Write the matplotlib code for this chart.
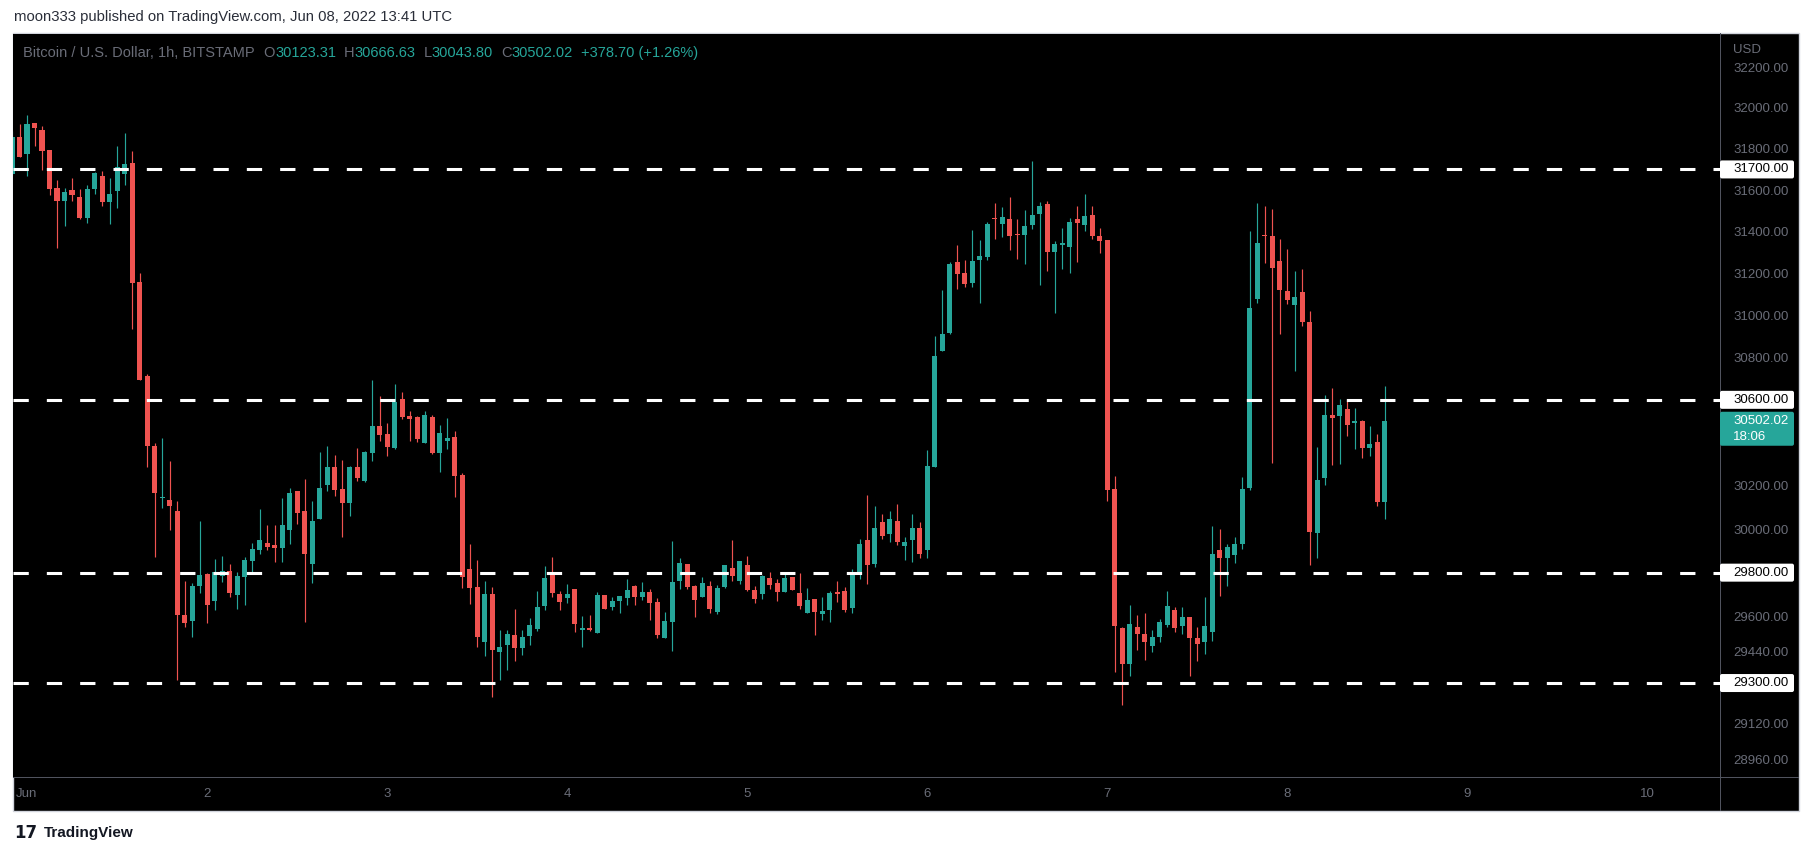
import numpy as np
import pandas as pd
import matplotlib
matplotlib.use("Agg")
import matplotlib.pyplot as plt
from matplotlib.patches import Rectangle, FancyBboxPatch
from matplotlib.transforms import IdentityTransform
from matplotlib.ticker import FixedLocator, NullLocator, FuncFormatter

# ---------------- data (BTC/USD, 1h, Bitstamp) ----------------
start_time = "2022-05-31 22:00"

opens = [
    31678, 31856,
    31774, 31925, 31890, 31793, 31610, 31545, 31601, 31567, 31464, 31603, 31668, 31540,
    31597, 31677, 31729, 31156, 30710, 30386, 30143, 30136, 30081, 29608, 29578, 29740,
    29792, 29671, 29783, 29806, 29698, 29779, 29853, 29904, 29936, 29927, 29913, 29997,
    30174, 30081, 29839, 30044, 30202, 30285, 30183, 30122, 30285, 30220, 30350, 30476,
    30439, 30374, 30606, 30523, 30518, 30397, 30518, 30350, 30406, 30425, 30248, 29815,
    29734, 29486, 29702, 29441, 29473, 29518, 29459, 29514, 29545, 29648, 29788, 29702,
    29684, 29725, 29540, 29549, 29527, 29698, 29644, 29671, 29684, 29738, 29689, 29711,
    29666, 29504, 29576, 29761, 29839, 29738, 29689, 29738, 29621, 29734, 29820, 29761,
    29834, 29720, 29702, 29774, 29752, 29711, 29779, 29707, 29617, 29680, 29612, 29630,
    29711, 29716, 29639, 29788, 29950, 29839, 30034, 29978, 30039, 29923, 29950, 30006,
    29904, 30285, 30831, 30917, 31252, 31199, 31152, 31262, 31276, 31467, 31434, 31462,
    31386, 31381, 31429, 31482, 31534, 31300, 31333, 31324, 31462, 31433, 31481, 31377,
    31357, 30183, 29550, 29384, 29554, 29523, 29466, 29509, 29563, 29630, 29559, 29598,
    29505, 29485, 29531, 29905, 29866, 29880, 29931, 30188, 31075, 31384, 31376, 31257,
    31113, 31046, 31108, 30965, 29983, 30234, 30527, 30523, 30555, 30490, 30499, 30374,
    30402, 30123.31,
]
highs = [
    31887, 31920,
    31964, 31925, 31910, 31793, 31648, 31610, 31659, 31605, 31624, 31687, 31691, 31659,
    31813, 31876, 31788, 31203, 30721, 30400, 30420, 30316, 30130, 29761, 29752, 30039,
    29800, 29862, 29876, 29839, 29801, 29871, 29936, 30090, 30020, 30020, 30141, 30188,
    30174, 30229, 30127, 30355, 30383, 30341, 30318, 30290, 30374, 30360, 30691, 30616,
    30490, 30672, 30639, 30546, 30523, 30546, 30527, 30481, 30513, 30453, 30257, 29932,
    29857, 29761, 29734, 29540, 29537, 29636, 29537, 29595, 29716, 29829, 29871, 29716,
    29747, 29725, 29603, 29608, 29711, 29698, 29689, 29693, 29770, 29743, 29756, 29725,
    29684, 29621, 29946, 29867, 29839, 29743, 29779, 29761, 29743, 29834, 29950, 29853,
    29876, 29738, 29788, 29802, 29770, 29802, 29779, 29797, 29729, 29680, 29689, 29716,
    29761, 29734, 29815, 29955, 30155, 30108, 30071, 30081, 30113, 29964, 30067, 30034,
    30364, 30903, 31118, 31252, 31333, 31262, 31405, 31357, 31448, 31539, 31520, 31568,
    31462, 31505, 31740, 31544, 31549, 31352, 31415, 31467, 31525, 31581, 31525, 31415,
    31357, 30247, 29554, 29653, 29607, 29616, 29540, 29588, 29716, 29644, 29644, 29598,
    29554, 29689, 30015, 29998, 29931, 29963, 30239, 31400, 31539, 31525, 31506, 31362,
    31314, 31209, 31218, 31018, 30378, 30621, 30654, 30602, 30597, 30564, 30504, 30476,
    30439, 30666.63,
]
lows = [
    31673, 31760,
    31669, 31815, 31698, 31578, 31320, 31425, 31549, 31459, 31439, 31583, 31525, 31435,
    31511, 31626, 30933, 30694, 30287, 29872, 30095, 29996, 29315, 29555, 29506, 29708,
    29572, 29630, 29756, 29689, 29635, 29653, 29792, 29885, 29904, 29848, 29848, 29932,
    30025, 29576, 29752, 30044, 30174, 30150, 29964, 30058, 30220, 30215, 30313, 30406,
    30336, 30369, 30509, 30406, 30402, 30397, 30346, 30262, 30369, 30146, 29729, 29657,
    29464, 29423, 29238, 29315, 29360, 29401, 29428, 29473, 29536, 29630, 29689, 29630,
    29662, 29531, 29464, 29536, 29527, 29635, 29630, 29617, 29653, 29653, 29675, 29585,
    29504, 29504, 29446, 29725, 29725, 29599, 29689, 29617, 29612, 29729, 29761, 29747,
    29716, 29662, 29680, 29725, 29671, 29711, 29720, 29635, 29617, 29518, 29585, 29576,
    29666, 29621, 29617, 29770, 29747, 29825, 29955, 29941, 29927, 29857, 29850, 29867,
    29867, 30285, 30831, 30912, 31123, 31133, 31133, 31056, 31262, 31362, 31372, 31309,
    31266, 31243, 31410, 31142, 31209, 31009, 31219, 31199, 31255, 31400, 31362, 31295,
    30131, 29351, 29200, 29331, 29451, 29403, 29440, 29485, 29554, 29528, 29523, 29331,
    29398, 29432, 29491, 29692, 29740, 29843, 29907, 30178, 31056, 31247, 30304, 30908,
    31051, 30735, 30946, 29834, 29867, 30202, 30296, 30299, 30430, 30369, 30327, 30336,
    30104, 30043.80,
]
closes = [
    31856, 31760,
    31920, 31903, 31790, 31603, 31545, 31590, 31574, 31464, 31605, 31682, 31540, 31581,
    31711, 31726, 31153, 30694, 30383, 30164, 30148, 30104, 29608, 29573, 29738, 29788,
    29653, 29801, 29806, 29707, 29783, 29857, 29909, 29950, 29918, 29913, 30020, 30164,
    30073, 29885, 30039, 30188, 30285, 30178, 30118, 30285, 30234, 30355, 30476, 30434,
    30378, 30592, 30518, 30509, 30416, 30527, 30350, 30443, 30420, 30243, 29779, 29729,
    29508, 29702, 29450, 29464, 29523, 29459, 29509, 29563, 29644, 29774, 29707, 29666,
    29702, 29567, 29549, 29540, 29698, 29635, 29671, 29693, 29720, 29689, 29711, 29662,
    29518, 29581, 29756, 29843, 29734, 29675, 29752, 29635, 29729, 29834, 29783, 29853,
    29720, 29680, 29783, 29743, 29711, 29774, 29720, 29648, 29675, 29621, 29626, 29707,
    29702, 29630, 29792, 29932, 29834, 30006, 29969, 30048, 29941, 29941, 30006, 29885,
    30290, 30807, 30908, 31242, 31195, 31147, 31257, 31281, 31434, 31458, 31472, 31376,
    31381, 31424, 31477, 31525, 31300, 31338, 31343, 31448, 31443, 31476, 31377, 31352,
    30178, 29559, 29384, 29568, 29519, 29485, 29508, 29574, 29647, 29550, 29598, 29502,
    29475, 29559, 29885, 29866, 29917, 29931, 30183, 31032, 31343, 31378, 31223, 31118,
    31070, 31085, 30965, 29988, 30225, 30527, 30513, 30578, 30481, 30499, 30374, 30392,
    30123.32, 30502.02,
]

levels = [31700, 30600, 29800, 29300]
price_ticks = [28960, 29120, 29440, 29600, 30000, 30200, 30800, 31000,
               31200, 31400, 31600, 31800, 32000, 32200]
day_labels = ["Jun", "2", "3", "4", "5", "6", "7", "8", "9", "10"]
symbol_text = "Bitcoin / U.S. Dollar, 1h, BITSTAMP"
header_text = "moon333 published on TradingView.com, Jun 08, 2022 13:41 UTC"
countdown = "18:06"

# ---------------- styling ----------------
UP, DOWN = "#26a69a", "#ef5350"
GREY = "#6a6d78"
plt.rcParams["font.family"] = ["Liberation Sans", "DejaVu Sans"]
plt.rcParams["lines.scale_dashes"] = False

W, H = 1813, 856
fig = plt.figure(figsize=(W / 100, H / 100), dpi=100)
fig.patch.set_facecolor("white")


def prect(x0, y0, x1, y1, **kw):
    """rectangle in pixel coordinates measured from the top-left corner"""
    r = Rectangle((x0, H - y1), x1 - x0, y1 - y0, transform=IdentityTransform(), **kw)
    fig.add_artist(r)
    return r


# chart frame (black) with light border
prect(13, 33, 1799, 811, facecolor="black", edgecolor="#d1d4dc", linewidth=1, zorder=0)

ax = fig.add_axes([13 / W, (H - 777) / H, (1720 - 13) / W, (777 - 34) / H])
ax.set_facecolor("black")
for s in ax.spines.values():
    s.set_visible(False)

times = pd.date_range(start_time, periods=len(opens), freq="h")
x = ((times - pd.Timestamp("2022-06-01")) / pd.Timedelta(hours=1)).to_numpy()
o = np.array(opens, float)
h = np.array(highs, float)
l = np.array(lows, float)
c = np.array(closes, float)
col = np.where(c >= o, UP, DOWN)

ax.set_yscale("log")
ax.set_ylim(28881, 32365)
ax.set_xlim(-1.867, 225.7)

ax.vlines(x, l, h, colors=col, linewidth=0.85, zorder=2)
body_lo = np.minimum(o, c)
body_h = np.maximum(np.abs(c - o), 4.0)
ax.bar(x, body_h, bottom=body_lo, width=0.67, color=col, linewidth=0, zorder=3)

for lv in levels:
    ax.axhline(lv, color="white", linewidth=2.2, dashes=(11, 13), zorder=4)

# y axis on the right
ax.yaxis.tick_right()
ax.yaxis.set_major_locator(FixedLocator(price_ticks))
ax.yaxis.set_minor_locator(NullLocator())
ax.yaxis.set_major_formatter(FuncFormatter(lambda v, p: f"{v:.2f}"))
ax.yaxis.set_minor_formatter(FuncFormatter(lambda v, p: ""))
ax.tick_params(axis="y", length=0, pad=9.5, labelsize=9.5, labelcolor=GREY)

# x axis (days)
days = pd.date_range("2022-06-01", periods=len(day_labels), freq="D")
day_x = ((days - pd.Timestamp("2022-06-01")) / pd.Timedelta(hours=1)).to_numpy()
ax.set_xticks(day_x)
ax.set_xticklabels(day_labels)
ax.xaxis.set_minor_locator(NullLocator())
ax.tick_params(axis="x", length=0, pad=8, labelsize=9.5, labelcolor=GREY)

# separators
prect(1720, 33, 1721, 811, facecolor="#50535e", linewidth=0, zorder=5)
prect(13, 777, 1799, 778, facecolor="#50535e", linewidth=0, zorder=5)

fig.text(1733 / W, 1 - 50 / H, "USD", color=GREY, fontsize=9.5, va="center", ha="left")

# level labels on price axis
fig.canvas.draw()
for lv in levels:
    yd = ax.transData.transform((0, lv))[1]
    box = FancyBboxPatch((1720, yd - 9), 74, 18, boxstyle="round,pad=0,rounding_size=2",
                         transform=IdentityTransform(), facecolor="white",
                         edgecolor="none", zorder=10)
    fig.add_artist(box)
    fig.text(1733 / W, yd / H, f"{lv:.2f}", color="black", fontsize=9.5,
             va="center", ha="left", zorder=11)

# last price label
last = c[-1]
yd = ax.transData.transform((0, last))[1]
box = FancyBboxPatch((1720, yd - 25), 74, 34, boxstyle="round,pad=0,rounding_size=2",
                     transform=IdentityTransform(), facecolor=UP, edgecolor="none", zorder=10)
fig.add_artist(box)
fig.text(1733 / W, yd / H, f"{last:.2f}", color="white", fontsize=9.5,
         va="center", ha="left", zorder=11)
fig.text(1733 / W, (yd - 16) / H, countdown, color="white", fontsize=9.5,
         va="center", ha="left", zorder=11)

# legend line (symbol + OHLC)
chg = c[-1] - c[-2]
pct = chg / c[-2] * 100
pieces = [
    (symbol_text, GREY, 9),
    ("O", GREY, 0), (f"{o[-1]:.2f}", UP, 8),
    ("H", GREY, 0), (f"{h[-1]:.2f}", UP, 8),
    ("L", GREY, 0), (f"{l[-1]:.2f}", UP, 8),
    ("C", GREY, 0), (f"{c[-1]:.2f}", UP, 8),
    (f"{chg:+.2f} ({pct:+.2f}%)", UP, 0),
]
renderer = fig.canvas.get_renderer()
xp = 23
for txt, colr, gap in pieces:
    t = fig.text(xp / W, 1 - 53 / H, txt, color=colr, fontsize=10.5, va="center", ha="left")
    bb = t.get_window_extent(renderer)
    xp = bb.x1 + gap

# header and footer
fig.text(14 / W, 1 - 17 / H, header_text, color="#2a2e39", fontsize=10.7,
         va="center", ha="left")
fig.text(14 / W, 1 - 833 / H, "17", color="#131722", fontsize=12, fontweight="bold",
         va="center", ha="left", family="DejaVu Sans")
fig.text(44 / W, 1 - 833 / H, "TradingView", color="#131722", fontsize=11,
         fontweight="bold", va="center", ha="left")

fig.savefig("out.png", dpi=100, facecolor=fig.get_facecolor())
